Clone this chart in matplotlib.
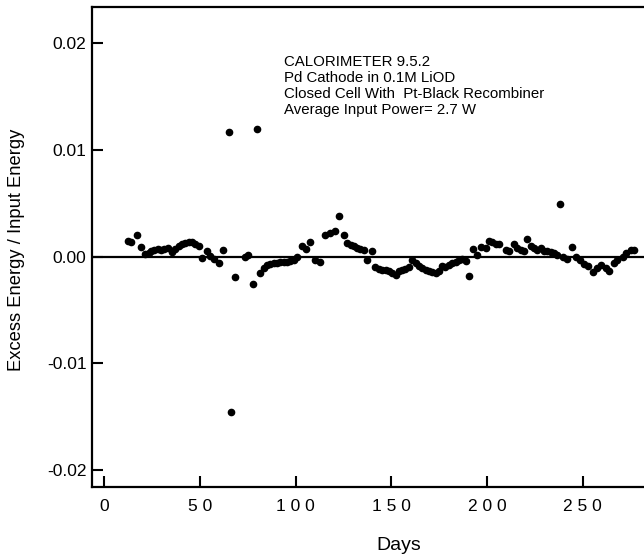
import matplotlib.pyplot as plt

plt.rcParams['font.family'] = ['Liberation Sans', 'DejaVu Sans']

# Days and excess / input energy
days = [12.7, 14.1, 16.9, 19.4, 21.4, 23.2, 24.6, 26.3, 28.1, 29.8,
        31.5, 33.3, 35.4, 37.1, 38.9, 40.6, 42.4, 44.1, 45.9, 47.6,
        49.3, 51.1, 53.7, 55.4, 57.2, 59.8, 61.9, 65.0, 66.4, 68.2,
        73.7, 74.9, 77.8, 79.9, 81.6, 83.3, 85.1, 86.8, 88.5, 90.3,
        92.1, 93.8, 95.6, 97.3, 99.0, 100.8, 103.4, 105.6, 107.7, 110.4,
        113.0, 115.6, 118.2, 120.8, 122.5, 125.2, 126.9, 128.7, 130.4, 132.2,
        133.9, 135.6, 137.4, 140.0, 141.7, 143.5, 145.2, 147.0, 148.7, 150.5,
        152.2, 153.9, 155.7, 157.4, 159.2, 160.9, 162.7, 164.4, 166.2, 167.9,
        169.6, 171.4, 173.1, 174.8, 176.6, 178.3, 180.1, 181.9, 183.6, 185.3,
        187.1, 188.8, 190.5, 192.8, 194.9, 197.0, 199.3, 201.0, 202.8, 204.5,
        206.2, 209.7, 211.4, 214.0, 215.8, 217.6, 219.3, 220.7, 222.8, 224.5,
        226.3, 228.0, 229.8, 231.5, 233.3, 235.0, 236.8, 238.1, 239.9, 242.0,
        244.6, 246.3, 248.6, 250.7, 252.5, 255.1, 257.3, 259.4, 262.0, 263.8,
        266.4, 268.1, 270.8, 272.5, 275.1, 276.8]
ratio = [0.00143, 0.00134, 0.00206, 0.00087, 0.00028, 0.00035, 0.00050, 0.00065, 0.00075, 0.00065,
         0.00075, 0.00081, 0.00040, 0.00072, 0.00103, 0.00121, 0.00128, 0.00134, 0.00134, 0.00121,
         0.00103, -0.00009, 0.00050, 0.00009, -0.00019, -0.00059, 0.00059, 0.0117, -0.01455, -0.0019,
         -0.00003, 0.00019, -0.0026, 0.0120, -0.00152, -0.00106, -0.00075, -0.00065, -0.00059, -0.00059,
         -0.00053, -0.00053, -0.00053, -0.00044, -0.00028, -0.00003, 0.00103, 0.00072, 0.00134, -0.00028,
         -0.00053, 0.00206, 0.00221, 0.00236, 0.00377, 0.00206, 0.00128, 0.00112, 0.00096, 0.00081,
         0.00072, 0.00065, -0.00028, 0.00056, -0.00096, -0.00115, -0.00121, -0.00128, -0.00137, -0.00152,
         -0.00168, -0.00137, -0.00121, -0.00115, -0.00096, -0.00035, -0.00059, -0.00084, -0.00106, -0.00121,
         -0.00137, -0.00147, -0.00152, -0.00137, -0.00091, -0.00096, -0.00075, -0.00059, -0.00053, -0.00035,
         -0.00021, -0.00044, -0.00184, 0.00075, 0.00019, 0.00091, 0.00081, 0.00143, 0.00140, 0.00121,
         0.00121, 0.00065, 0.00050, 0.00121, 0.00081, 0.00065, 0.00050, 0.00165, 0.00103, 0.00081,
         0.00065, 0.00081, 0.00050, 0.00050, 0.00040, 0.00035, 0.00019, 0.00495, -0.00003, -0.00021,
         0.00091, -0.00003, -0.00028, -0.00065, -0.00084, -0.00147, -0.00106, -0.00075, -0.00106, -0.00137,
         -0.00059, -0.00035, -0.00003, 0.00035, 0.00059, 0.00065]

x_ticks = [0, 50, 100, 150, 200, 250]
x_tick_labels = ['0', '5 0', '1 0 0', '1 5 0', '2 0 0', '2 5 0']
y_ticks = [-0.02, -0.01, 0.00, 0.01, 0.02]
y_tick_labels = ['-0.02', '-0.01', '0.00', '0.01', '0.02']

info_text = ("CALORIMETER 9.5.2\n"
             "Pd Cathode in 0.1M LiOD\n"
             "Closed Cell With  Pt-Black Recombiner\n"
             "Average Input Power= 2.7 W")

fig = plt.figure(figsize=(6.44, 5.57), dpi=100)
ax = fig.add_axes([0.143, 0.126, 0.857, 0.861])

ax.axhline(0, color='black', linewidth=1.6, zorder=1)
ax.plot(days, ratio, 'o', color='black', markersize=4.5, zorder=2)

ax.set_xlim(-6.3, 282)
ax.set_ylim(-0.0216, 0.0234)

ax.set_xticks(x_ticks)
ax.set_xticklabels(x_tick_labels)
ax.set_yticks(y_ticks)
ax.set_yticklabels(y_tick_labels)
ax.tick_params(direction='in', length=8, width=1.5, labelsize=12.5)
ax.tick_params(axis='x', pad=9)
ax.tick_params(axis='y', pad=4)

for side in ['left', 'bottom', 'top']:
    ax.spines[side].set_linewidth(1.6)
ax.spines['right'].set_visible(False)

ax.set_xlabel("Days", fontsize=14)
ax.xaxis.set_label_coords(0.556, -0.104)
ax.set_ylabel("Excess Energy / Input Energy", fontsize=13.2)
ax.yaxis.set_label_coords(-0.121, 0.494)

ax.text(0.348, 0.9, info_text, transform=ax.transAxes, fontsize=10.8,
        va='top', ha='left', linespacing=1.17)

plt.savefig("out.png", dpi=100)
